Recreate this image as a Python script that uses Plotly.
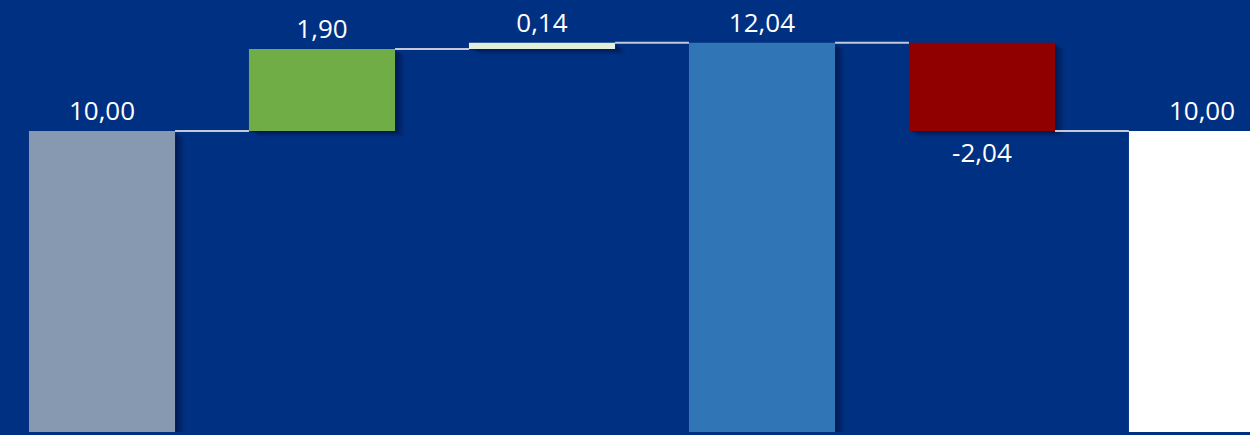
import plotly.graph_objects as go

# ---- data ----
categories = ["Start", "Zuwachs A", "Zuwachs B", "Zwischensumme", "Rückgang", "Ende"]
values = [10.00, 1.90, 0.14, 12.04, -2.04, 10.00]
measures = ["absolute", "relative", "relative", "total", "relative", "total"]
bar_colors = ["#8799B0", "#70AD47", "#E2EFDA", "#3075B5", "#900000", "#FFFFFF"]

BG = "#003082"
W = 0.664

# compute waterfall bases / lengths
bases, lengths, ends = [], [], []
cum = 0.0
for v, m in zip(values, measures):
    if m == "absolute":
        b, l = 0.0, v
        cum = v
    elif m == "total":
        b, l = 0.0, cum
    else:
        b, l = cum, v
        cum = cum + v
    bases.append(b)
    lengths.append(l)
    ends.append(cum)

xs = list(range(len(values)))

fig = go.Figure()

# soft drop shadows
for k, a in [(10, 0.06), (8, 0.09), (6, 0.12), (4, 0.15), (2, 0.18)]:
    dx = k / 220.0
    dy = k * 0.6 / 43.2
    fig.add_trace(go.Bar(
        x=xs, y=lengths, base=[b - dy for b in bases],
        width=W, offset=-W / 2 + dx,
        marker=dict(color=f"rgba(0,10,45,{a})", line=dict(width=0)),
        hoverinfo="skip", showlegend=False,
    ))

# connectors
cx, cy = [], []
for i in range(len(values) - 1):
    cx += [xs[i] + W / 2, xs[i + 1] - W / 2, None]
    cy += [ends[i], ends[i], None]
fig.add_trace(go.Scatter(
    x=cx, y=cy, mode="lines",
    line=dict(color="#C3C9D6", width=2),
    hoverinfo="skip", showlegend=False,
))

# main bars
fig.add_trace(go.Bar(
    x=xs, y=lengths, base=bases,
    width=W, offset=-W / 2,
    marker=dict(color=bar_colors, line=dict(width=0)),
    text=[f"{v:.2f}".replace(".", ",") for v in values],
    textposition="outside",
    textangle=0,
    constraintext="none",
    outsidetextfont=dict(color="white", size=26, family="Segoe UI, Open Sans"),
    cliponaxis=False,
    showlegend=False,
))

fig.update_layout(
    width=1250, height=435,
    margin=dict(l=0, r=0, t=0, b=3),
    paper_bgcolor=BG, plot_bgcolor=BG,
    barmode="overlay",
    separators=",.",
    xaxis=dict(range=[-102 / 220, (1250 - 102) / 220], visible=False, fixedrange=True),
    yaxis=dict(range=[10 - 301 / 43.2, 10 + 131 / 43.2], visible=False, fixedrange=True),
)

fig.write_html(
    "out.html",
    config={"displayModeBar": False},
    post_script="document.body.style.margin='0';document.body.style.overflow='hidden';"
                "document.body.style.background='" + BG + "';",
)
